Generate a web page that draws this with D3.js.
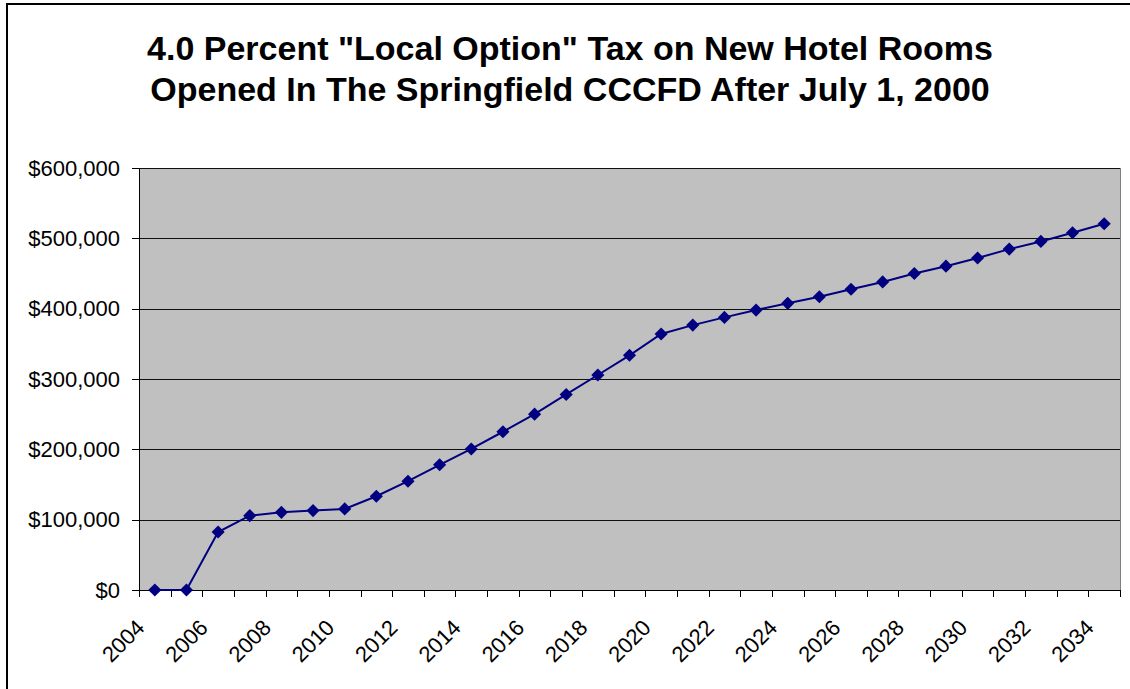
<!DOCTYPE html>
<html lang="en">

<head>
  <meta charset="utf-8">
  <title>Local Option Tax</title>
  <style>
    body {
      margin: 0;
      background: #fff;
    }

    text {
      font-family: "Liberation Sans", Arial, sans-serif;
      fill: #000;
    }

    .axis path,
    .axis line {
      stroke: #000;
      shape-rendering: crispEdges;
    }
  </style>
</head>

<body>
  <div id="chart"></div>
</body>
<script src="https://d3js.org/d3.v7.min.js"></script>

<script>

  // data
  let years = ["2004", "2005", "2006", "2007", "2008", "2009", "2010", "2011", "2012", "2013",
    "2014", "2015", "2016", "2017", "2018", "2019", "2020", "2021", "2022", "2023",
    "2024", "2025", "2026", "2027", "2028", "2029", "2030", "2031", "2032", "2033", "2034"];
  let taxValues = [0, 0, 82400, 105700, 110400, 112900, 115300, 133300, 154700, 178000,
    200500, 225000, 250000, 278000, 305700, 333700, 364000, 376600, 387600, 398000,
    407600, 417000, 427600, 438000, 450000, 460400, 472000, 484700, 495600, 507900, 520700];
  let yTicks = [0, 100000, 200000, 300000, 400000, 500000, 600000];
  let xLabels = ["2004", "2006", "2008", "2010", "2012", "2014", "2016", "2018",
    "2020", "2022", "2024", "2026", "2028", "2030", "2032", "2034"];
  let titleLines = ["4.0 Percent \"Local Option\" Tax on New Hotel Rooms",
    "Opened In The Springfield CCCFD After July 1, 2000"];

  let W = 1130, H = 689;
  let plotL = 139, plotR = 1120, plotT = 168, plotB = 590;

  let svg = d3.select("#chart")
    .append("svg")
    .attr("width", W)
    .attr("height", H);

  // outer chart frame
  svg.append("rect")
    .attr("x", 7)
    .attr("y", 4)
    .attr("width", W + 20)
    .attr("height", H + 20)
    .attr("fill", "#fff")
    .attr("stroke", "#000")
    .attr("stroke-width", 2);

  let x = d3.scaleBand().domain(years).range([plotL, plotR]).padding(0);
  let y = d3.scaleLinear().domain([0, 600000]).range([plotB, plotT]);

  // plot area
  svg.append("rect")
    .attr("x", plotL)
    .attr("y", plotT)
    .attr("width", plotR - plotL)
    .attr("height", plotB - plotT)
    .attr("fill", "#c0c0c0")
    .attr("stroke", "#808080")
    .attr("shape-rendering", "crispEdges");

  // gridlines
  svg.append("g")
    .selectAll("line")
    .data(yTicks.filter((d) => d > 0))
    .enter()
    .append("line")
    .attr("x1", plotL)
    .attr("x2", plotR)
    .attr("y1", (d) => Math.round(y(d)) + 0.5)
    .attr("y2", (d) => Math.round(y(d)) + 0.5)
    .attr("stroke", "#111")
    .attr("stroke-width", 1);

  // y axis
  svg.append("g")
    .attr("class", "axis")
    .attr("transform", "translate(" + plotL + ",0)")
    .call(d3.axisLeft(y).tickValues(yTicks).tickFormat(d3.format("$,")).tickSize(7).tickSizeOuter(0).tickPadding(12))
    .call((g) => g.selectAll("text").style("font-size", "22px").style("font-family", "Liberation Sans, Arial, sans-serif"));

  // x axis line and ticks between categories
  let xAxis = svg.append("g").attr("class", "axis");
  xAxis.append("line")
    .attr("x1", plotL)
    .attr("x2", plotR)
    .attr("y1", plotB + 0.5)
    .attr("y2", plotB + 0.5);
  xAxis.selectAll(".tk")
    .data(years.concat(["end"]))
    .enter()
    .append("line")
    .attr("class", "tk")
    .attr("x1", (d) => d == "end" ? plotR : Math.round(x(d)) + 0.5)
    .attr("x2", (d) => d == "end" ? plotR : Math.round(x(d)) + 0.5)
    .attr("y1", plotB)
    .attr("y2", plotB + 7);

  xAxis.selectAll(".lbl")
    .data(xLabels)
    .enter()
    .append("text")
    .attr("class", "lbl")
    .attr("transform", (d) => "translate(" + (x(d) + x.bandwidth() / 2 - 9) + "," + (plotB + 39) + ") rotate(-45)")
    .attr("text-anchor", "end")
    .style("font-size", "22px")
    .text((d) => d);

  // series line
  let line = d3.line()
    .x((d, i) => x(years[i]) + x.bandwidth() / 2)
    .y((d) => y(d));

  svg.append("path")
    .datum(taxValues)
    .attr("d", line)
    .attr("fill", "none")
    .attr("stroke", "#000080")
    .attr("stroke-width", 2);

  svg.append("g")
    .selectAll("path")
    .data(taxValues)
    .enter()
    .append("path")
    .attr("d", d3.symbol().type(d3.symbolDiamond2).size(110))
    .attr("transform", (d, i) => "translate(" + (x(years[i]) + x.bandwidth() / 2) + "," + y(d) + ")")
    .attr("fill", "#000080");

  // title
  svg.append("g")
    .selectAll("text")
    .data(titleLines)
    .enter()
    .append("text")
    .attr("x", 570)
    .attr("y", (d, i) => 60 + i * 41)
    .attr("text-anchor", "middle")
    .style("font-size", "34px")
    .style("font-weight", "bold")
    .text((d) => d);

</script>

</html>
